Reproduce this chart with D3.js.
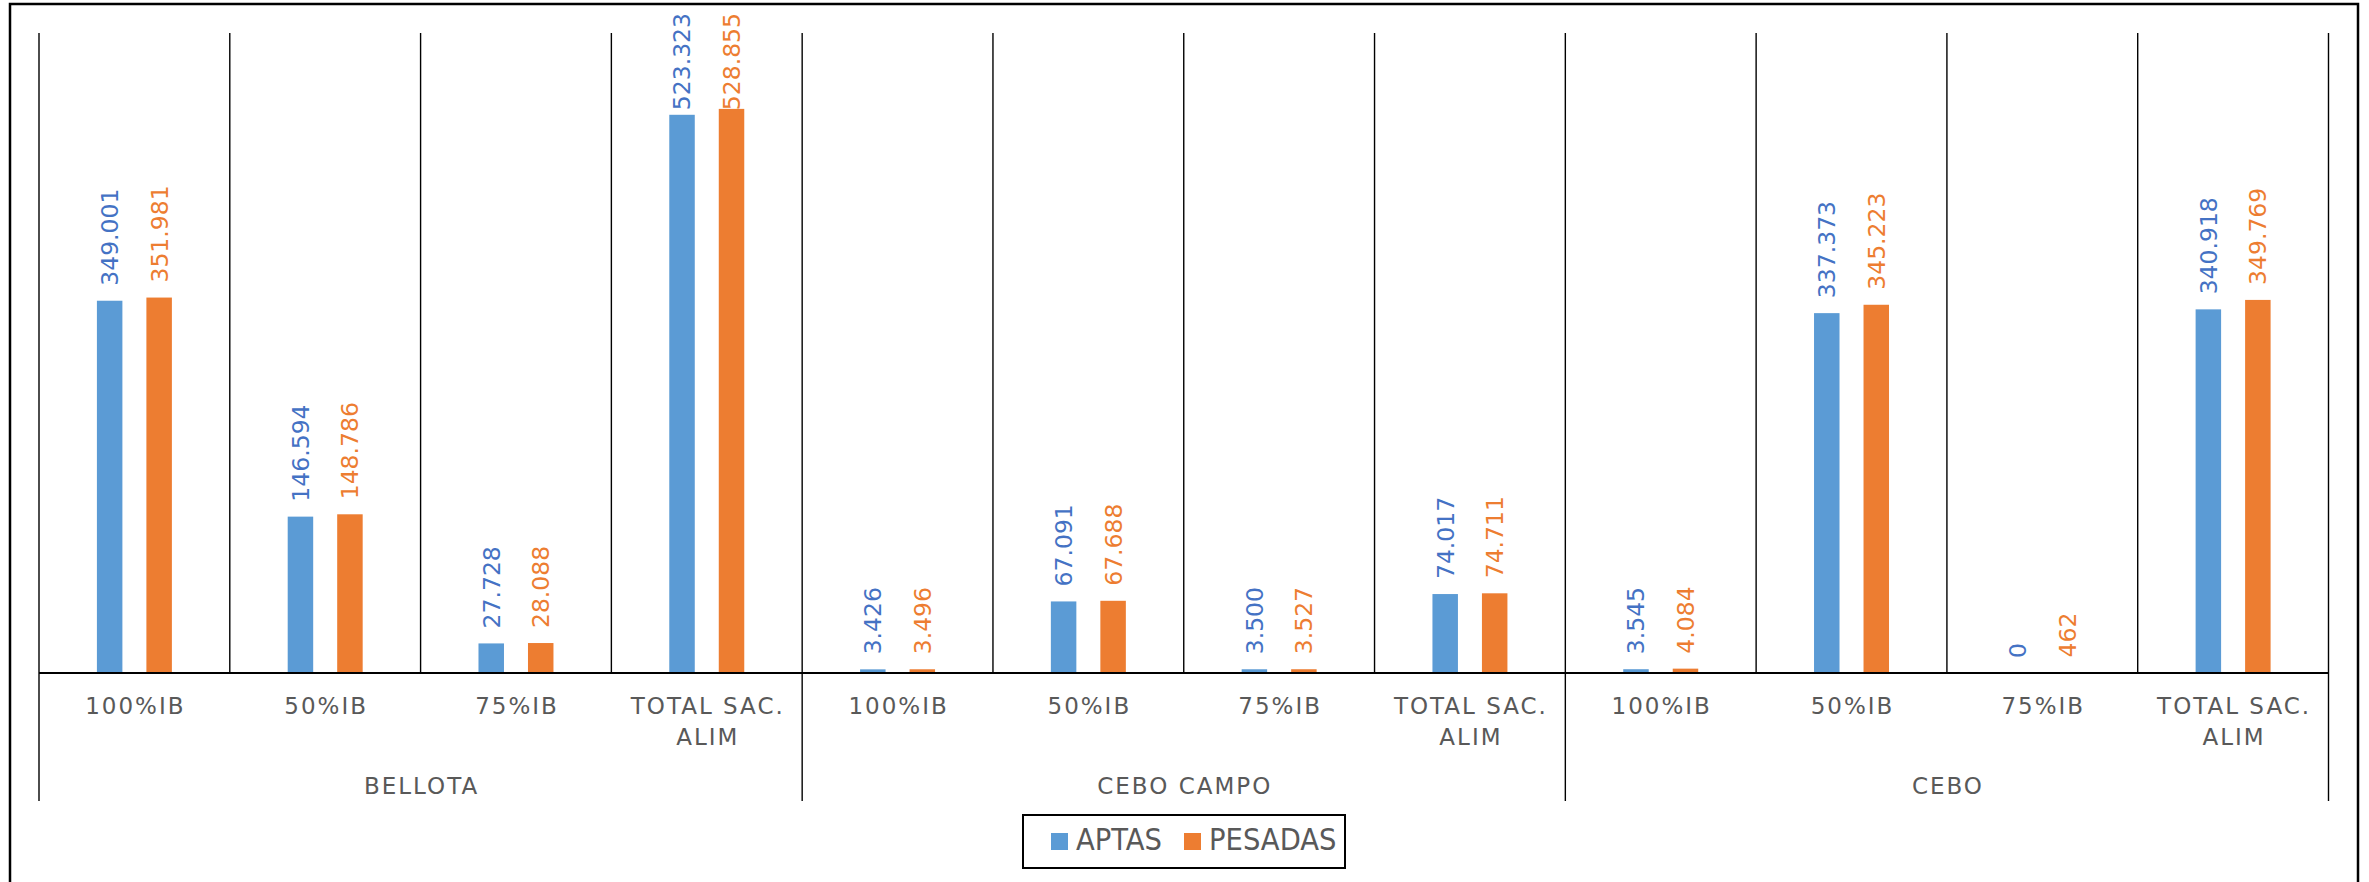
<!DOCTYPE html>
<html>
<head>
<meta charset="utf-8">
<script src="https://cdn.jsdelivr.net/npm/d3@7"></script>
<style>
  html, body { margin: 0; padding: 0; background: #fff; }
  svg { display: block; }
</style>
</head>
<body>
<svg id="chart" width="2369" height="882"></svg>
<script>
// ---- Data ----
const groups = ["BELLOTA", "CEBO CAMPO", "CEBO"];
const categories = ["100%IB", "50%IB", "75%IB", "TOTAL SAC.\nALIM"];
const seriesNames = ["APTAS", "PESADAS"];
const aptas = [349001, 146594, 27728, 523323, 3426, 67091, 3500, 74017, 3545, 337373, 0, 340918];
const pesadas = [351981, 148786, 28088, 528855, 3496, 67688, 3527, 74711, 4084, 345223, 462, 349769];
const yDomain = [0, 600000];

// ---- Styles ----
const barColors = ["#5B9BD5", "#ED7D31"];
const labelColors = ["#4472C4", "#ED7D31"];
const textGray = "#595959";

const W = 2369, H = 882;
const plot = { left: 39, right: 2328.5, top: 33, bottom: 673 };

const svg = d3.select("#chart");
const locale = d3.formatLocale({ decimal: ",", thousands: ".", grouping: [3], currency: ["", "€"] });
const fmt = locale.format(",d");

// rows
const rows = [];
groups.forEach((g, gi) => categories.forEach((c, ci) => {
  const i = gi * categories.length + ci;
  rows.push({ key: g + "|" + ci, group: g, cat: c, values: [aptas[i], pesadas[i]] });
}));

const x0 = d3.scaleBand().domain(rows.map(d => d.key)).range([plot.left, plot.right]).padding(0);
const x1 = d3.scaleBand().domain(seriesNames).range([0, x0.bandwidth()]).paddingInner(0.485).paddingOuter(1.17);
const y = d3.scaleLinear().domain(yDomain).range([plot.bottom, plot.top]);

// outer border
svg.append("rect").attr("x", 10).attr("y", 4).attr("width", 2348).attr("height", 900)
  .attr("fill", "none").attr("stroke", "#000").attr("stroke-width", 2.5);

// vertical separators inside plot
const bounds = rows.map(d => x0(d.key)).concat([plot.right]);
svg.append("g").selectAll("line").data(bounds).join("line")
  .attr("x1", d => d).attr("x2", d => d)
  .attr("y1", plot.top).attr("y2", plot.bottom)
  .attr("stroke", "#000").attr("stroke-width", 1.4);

// group separators below axis
const gBounds = groups.map((g, gi) => x0(rows[gi * categories.length].key)).concat([plot.right]);
svg.append("g").selectAll("line").data(gBounds).join("line")
  .attr("x1", d => d).attr("x2", d => d)
  .attr("y1", plot.bottom).attr("y2", 801)
  .attr("stroke", "#000").attr("stroke-width", 1.4);

// bars
const barG = svg.append("g");
rows.forEach(r => {
  seriesNames.forEach((s, si) => {
    barG.append("rect")
      .attr("x", x0(r.key) + x1(s))
      .attr("y", y(r.values[si]))
      .attr("width", x1.bandwidth())
      .attr("height", y(0) - y(r.values[si]))
      .attr("fill", barColors[si]);
  });
});

// baseline axis
svg.append("line").attr("x1", plot.left).attr("x2", plot.right)
  .attr("y1", plot.bottom).attr("y2", plot.bottom)
  .attr("stroke", "#000").attr("stroke-width", 2.2);

// data labels
const labG = svg.append("g");
rows.forEach(r => {
  seriesNames.forEach((s, si) => {
    const cx = x0(r.key) + x1(s) + x1.bandwidth() / 2;
    const t = labG.append("text")
      .attr("font-family", "'DejaVu Sans', sans-serif")
      .attr("font-size", 23.5)
      .attr("fill", labelColors[si])
      .attr("text-anchor", "start")
      .attr("dy", "0.36em")
      .text(fmt(r.values[si]));
    const len = t.node().getComputedTextLength();
    let start = y(r.values[si]) - 15;
    if (start - len < 13) start = 13 + len;
    t.attr("transform", `translate(${cx},${start}) rotate(-90)`);
  });
});

// category labels
const catG = svg.append("g");
rows.forEach(r => {
  const cx = x0(r.key) + x0.bandwidth() / 2;
  const lines = r.cat.split("\n");
  const t = catG.append("text")
    .attr("font-family", "'DejaVu Sans', sans-serif")
    .attr("font-size", 23)
    .attr("letter-spacing", "2px")
    .attr("fill", textGray)
    .attr("text-anchor", "middle");
  lines.forEach((ln, li) => {
    t.append("tspan").attr("x", cx + 1).attr("y", 714 + li * 31).text(ln);
  });
});

// group labels
svg.append("g").selectAll("text").data(groups).join("text")
  .attr("x", (d, i) => (gBounds[i] + gBounds[i + 1]) / 2 + 1)
  .attr("y", 794)
  .attr("font-family", "'DejaVu Sans', sans-serif")
  .attr("font-size", 23)
  .attr("letter-spacing", "2px")
  .attr("fill", textGray)
  .attr("text-anchor", "middle")
  .text(d => d);

// legend
const lg = svg.append("g");
lg.append("rect").attr("x", 1023).attr("y", 815).attr("width", 322).attr("height", 53)
  .attr("fill", "#fff").attr("stroke", "#000").attr("stroke-width", 2);
const legX = [1051, 1184];
seriesNames.forEach((s, si) => {
  lg.append("rect").attr("x", legX[si]).attr("y", 833).attr("width", 17).attr("height", 17)
    .attr("fill", barColors[si]);
  lg.append("text").attr("x", legX[si] + 25).attr("y", 850)
    .attr("font-family", "'Liberation Sans Narrow', 'DejaVu Sans Condensed', 'Roboto Condensed', sans-serif")
    .attr("font-size", 30.5)
    .attr("fill", textGray)
    .text(s);
});
</script>
</body>
</html>
